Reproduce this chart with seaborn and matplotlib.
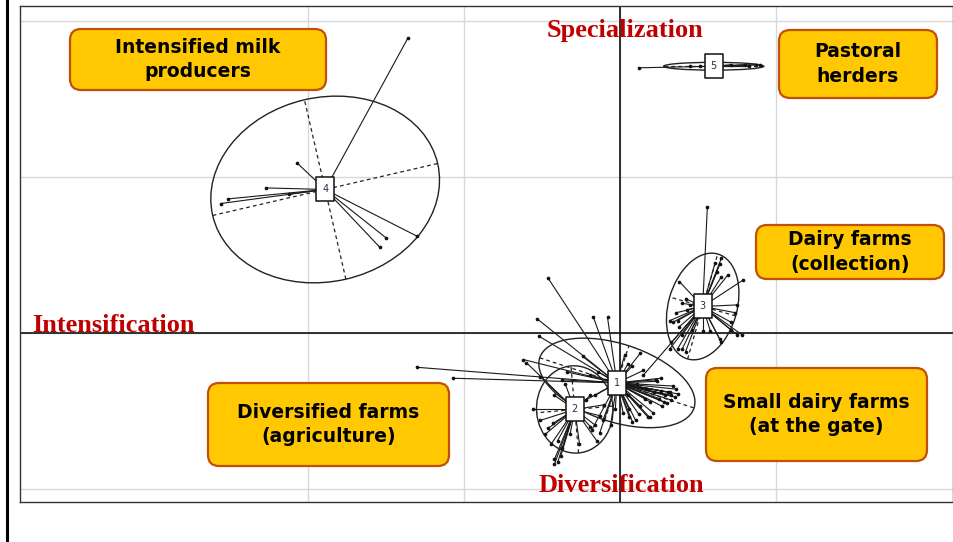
import numpy as np
import pandas as pd
import matplotlib
matplotlib.use("Agg")
import matplotlib.pyplot as plt
import seaborn as sns
from matplotlib.collections import LineCollection
from matplotlib.patches import Ellipse, FancyBboxPatch
from matplotlib.path import Path
from matplotlib.lines import Line2D

# Farm scores on the first two factorial axes, by typology class
x1 = [-0.46, -0.53, -0.17, -0.08, -0.52, -0.62, -0.24, 0.13, -1.30, -1.07, 0.15, 0.24,
      0.34, 0.33, 0.35, 0.28, 0.30, 0.21, 0.18, 0.10, 0.06, 0.02, 0.06, 0.13, 0.22, 0.26,
      0.17, 0.11, 0.23, 0.19, 0.08, -0.13, -0.18, -0.11, -0.06, 0.29, 0.31, 0.16, 0.19,
      0.05, -0.03, -0.19, -0.34, -0.37, -0.14, 0.00, 0.26, 0.32, 0.03, -0.16, -0.22,
      0.37, 0.36, 0.33, 0.27, 0.25, 0.12, 0.08, 0.05]
y1 = [0.35, 0.09, 0.10, 0.10, -0.02, -0.17, -0.15, -0.13, -0.22, -0.29, -0.24, -0.31,
      -0.34, -0.40, -0.41, -0.44, -0.45, -0.51, -0.54, -0.56, -0.54, -0.51, -0.49, -0.47,
      -0.38, -0.37, -0.36, -0.33, -0.30, -0.54, -0.57, -0.64, -0.62, -0.56, -0.59, -0.40,
      -0.38, -0.42, -0.44, -0.40, -0.49, -0.27, -0.25, -0.30, -0.25, -0.25, -0.29, -0.38,
      -0.14, -0.40, -0.43, -0.39, -0.36, -0.43, -0.47, -0.42, -0.52, -0.21, -0.20]

x2 = [-0.56, -0.43, -0.40, -0.44, -0.42, -0.40, -0.38, -0.42, -0.51, -0.60, -0.19, -0.15,
      -0.26, -0.35, -0.42, -0.46, -0.48, -0.37, -0.13, -0.10, -0.19, -0.16, -0.32, -0.51]
y2 = [-0.49, -0.58, -0.69, -0.71, -0.81, -0.83, -0.79, -0.84, -0.28, -0.19, -0.60, -0.69,
      -0.71, -0.33, -0.40, -0.61, -0.65, -0.74, -0.53, -0.46, -0.40, -0.59, -0.65, -0.56]

x3 = [0.56, 0.38, 0.79, 0.64, 0.62, 0.65, 0.61, 0.69, 0.65, 0.42, 0.34, 0.32, 0.37, 0.38,
      0.40, 0.33, 0.37, 0.40, 0.53, 0.58, 0.64, 0.65, 0.71, 0.75, 0.78, 0.74, 0.75, 0.71,
      0.43, 0.40, 0.45, 0.32, 0.42, 0.15, 0.46, 0.36]
y3 = [0.81, 0.33, 0.34, 0.44, 0.39, 0.48, 0.45, 0.37, 0.36, 0.22, 0.07, 0.08, 0.08, 0.04,
      -0.01, -0.06, -0.10, -0.10, 0.01, 0.01, -0.04, -0.06, 0.02, -0.01, -0.01, 0.13, 0.18,
      0.07, 0.15, 0.19, 0.18, -0.10, -0.12, -0.27, 0.02, 0.13]

x4 = [-1.36, -2.07, -2.27, -2.12, -2.51, -2.56, -1.50, -1.54, -1.30]
y4 = [1.89, 1.09, 0.93, 0.89, 0.86, 0.83, 0.61, 0.55, 0.62]

x5 = [0.12, 0.45, 0.51, 0.65, 0.71, 0.80, 0.83, 0.87, 0.90]
y5 = [1.70, 1.71, 1.71, 1.70, 1.72, 1.72, 1.71, 1.72, 1.72]

class_labels = ["1", "2", "3", "4", "5"]
centre_x = [-0.02, -0.29, 0.53, -1.89, 0.60]
centre_y = [-0.32, -0.49, 0.17, 0.92, 1.71]
# inertia ellipses: semi-axes and orientation (degrees)
ellipse_a = [0.52, 0.28, 0.35, 0.74, 0.32]
ellipse_b = [0.25, 0.245, 0.22, 0.59, 0.025]
ellipse_angle = [-18, 95, 74, 13, 0]

group_names = ["Small dairy farms\n(at the gate)", "Diversified farms\n(agriculture)",
               "Dairy farms\n(collection)", "Intensified milk\nproducers", "Pastoral\nherders"]
axis_names = ["Specialization", "Intensification", "Diversification"]

W, H = 954, 542
sns.set_style("white")
fig = plt.figure(figsize=(W / 100, H / 100), dpi=100)
ax = fig.add_axes([20 / W, 1 - 502 / H, 933 / W, 496 / H])

xs = [x1, x2, x3, x4, x5]
ys = [y1, y2, y3, y4, y5]
df = pd.concat([pd.DataFrame({"x": xv, "y": yv, "cls": lab})
                for xv, yv, lab in zip(xs, ys, class_labels)], ignore_index=True)
centres = pd.DataFrame({"x": centre_x, "y": centre_y, "cls": class_labels})

ax.set_xlim((20 - 620) / 156, (953 - 620) / 156)
ax.set_ylim((333 - 502) / 156, (333 - 6) / 156)
ax.set_xticks([-2, -1, 0, 1])
ax.set_yticks([-1, 0, 1, 2])
ax.set_xticklabels([])
ax.set_yticklabels([])
ax.tick_params(length=0)
ax.grid(True, color="#d8d8d8", lw=1.0)
ax.set_axisbelow(True)
for sp in ax.spines.values():
    sp.set_color("#333333")
    sp.set_linewidth(1.0)
ax.axhline(0, color="#111111", lw=1.2, zorder=1.5)
ax.axvline(0, color="#111111", lw=1.2, zorder=1.5)

# stars joining each farm to its class centre
segs = []
cmap = dict(zip(class_labels, zip(centre_x, centre_y)))
for _, r in df.iterrows():
    segs.append([cmap[r.cls], (r.x, r.y)])
ax.add_collection(LineCollection(segs, colors="#1a1a1a", linewidths=0.8, zorder=2))

# ellipses with dashed principal axes
for cx, cy, a, b, ang in zip(centre_x, centre_y, ellipse_a, ellipse_b, ellipse_angle):
    ax.add_patch(Ellipse((cx, cy), 2 * a, 2 * b, angle=ang, fill=False,
                         ec="#222222", lw=1.0, zorder=2.5))
    t = np.deg2rad(ang)
    ax.plot([cx - a * np.cos(t), cx + a * np.cos(t)], [cy - a * np.sin(t), cy + a * np.sin(t)],
            ls=(0, (3, 2.5)), color="#222222", lw=0.9, zorder=2.5)
    ax.plot([cx + b * np.sin(t), cx - b * np.sin(t)], [cy - b * np.cos(t), cy + b * np.cos(t)],
            ls=(0, (3, 2.5)), color="#222222", lw=0.9, zorder=2.5)

sns.scatterplot(data=df, x="x", y="y", color="#111111", s=7, linewidth=0,
                legend=False, ax=ax, zorder=3)

# class label boxes at the centres
box = Path([(-0.41, -0.5), (0.41, -0.5), (0.41, 0.5), (-0.41, 0.5), (-0.41, -0.5)],
           [Path.MOVETO, Path.LINETO, Path.LINETO, Path.LINETO, Path.CLOSEPOLY])
sns.scatterplot(data=centres, x="x", y="y", marker=box, s=275, color="white",
                edgecolor="#111111", linewidth=1.1, legend=False, ax=ax, zorder=4)
for cx, cy, lab in zip(centre_x, centre_y, class_labels):
    ax.text(cx, cy, lab, ha="center", va="center", fontsize=7, color="#2b2b55", zorder=5)
ax.set_xlabel("")
ax.set_ylabel("")

# axis interpretation labels
red = "#C00000"
for name, (px, py) in zip(axis_names, [(547, 37), (32, 332), (539, 492)]):
    fig.text(px / W, 1 - py / H, name, ha="left", va="baseline", color=red,
             fontsize=19, fontweight="bold", family="Liberation Serif", zorder=6)

# typology callouts
def callout(x0, y0, x1, y1, text):
    p = FancyBboxPatch((x0 / 100, (H - y1) / 100), (x1 - x0) / 100, (y1 - y0) / 100,
                       boxstyle="round,pad=0,rounding_size=0.11", transform=fig.dpi_scale_trans,
                       fc="#FFC800", ec="#C0500A", lw=1.6, zorder=7)
    fig.add_artist(p)
    fig.text((x0 + x1) / 2 / W, 1 - (y0 + y1) / 2 / H, text, ha="center", va="center",
             fontsize=13.5, fontweight="bold", color="black", linespacing=1.38,
             family="DejaVu Sans", zorder=8)

callout(706, 368, 927, 461, group_names[0])
callout(208, 383, 449, 466, group_names[1])
callout(756, 225, 944, 279, group_names[2])
callout(70, 29, 326, 90, group_names[3])
callout(779, 30, 937, 98, group_names[4])

fig.add_artist(Line2D([7.5 / W, 7.5 / W], [0, 1], color="black", lw=2.2,
                      transform=fig.transFigure))

fig.savefig("out.png", dpi=100)
